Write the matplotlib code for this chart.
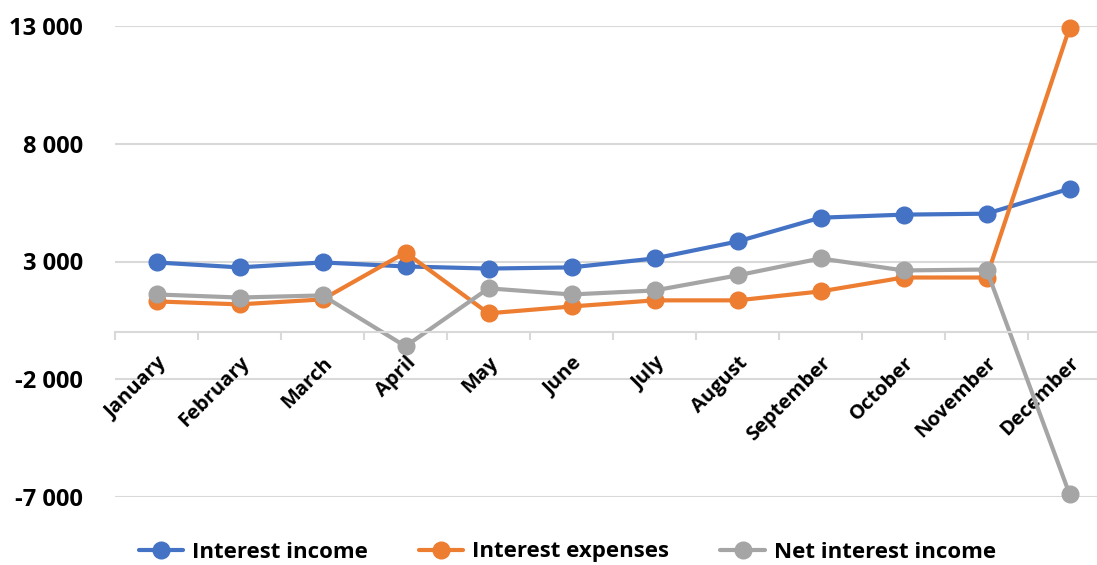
import matplotlib.pyplot as plt

months = ['January', 'February', 'March', 'April', 'May', 'June', 'July',
          'August', 'September', 'October', 'November', 'December']
interest_income = [2960, 2750, 2960, 2790, 2700, 2750, 3130, 3850, 4860, 4990, 5030, 6090]
interest_expenses = [1305, 1180, 1390, 3380, 800, 1090, 1350, 1350, 1730, 2320, 2320, 12920]
net_interest = [1600, 1470, 1560, -600, 1860, 1600, 1770, 2410, 3130, 2620, 2660, -6870]
yticks = [-7000, -2000, 3000, 8000, 13000]

plt.rcParams['font.family'] = ['Open Sans', 'DejaVu Sans']
plt.rcParams['font.weight'] = 'bold'

fig = plt.figure(figsize=(10.97, 5.65), dpi=100)
ax = fig.add_axes([115 / 1097, 1 - 497 / 565, 996 / 1097, 471 / 565])

x = list(range(len(months)))
series = [
    (interest_income, '#4472C4', 'Interest income'),
    (interest_expenses, '#ED7D31', 'Interest expenses'),
    (net_interest, '#A5A5A5', 'Net interest income'),
]
for vals, col, lab in series:
    ax.plot(x, vals, color=col, lw=3, marker='o', ms=12, label=lab,
            clip_on=False, solid_capstyle='round')

ax.set_xlim(-0.5, len(months) - 0.5)
ax.set_ylim(-7000, 13000)
ax.set_yticks(yticks)
ax.set_yticklabels([f'{v:,}'.replace(',', ' ') for v in yticks], fontsize=17, fontweight='bold')
# gridlines as plain lines so the month labels sit on top of them
for yv in yticks:
    ax.axhline(yv, color='#d9d9d9', lw=1.5, zorder=0.3)
ax.set_axisbelow(True)

for s in ['top', 'right', 'left']:
    ax.spines[s].set_visible(False)
ax.spines['bottom'].set_position(('data', 0))
ax.spines['bottom'].set_color('#d9d9d9')
ax.spines['bottom'].set_linewidth(1.5)

ax.set_xticks(x)
ax.set_xticklabels(months, rotation=45, ha='right', rotation_mode='anchor',
                   fontsize=14.5, fontweight='bold')
ax.set_xticks([i - 0.5 for i in range(len(months) + 1)], minor=True)
ax.tick_params(axis='x', which='major', length=0, pad=15)
ax.tick_params(axis='x', which='minor', length=6, width=1.5, color='#d9d9d9')
ax.tick_params(axis='y', length=0, pad=23)

fig.legend(loc='center', bbox_to_anchor=(0.517, 1 - 552 / 565), ncol=3, frameon=False,
           prop={'size': 16, 'weight': 'bold'}, handlelength=2.0, columnspacing=2.3,
           handletextpad=0.4)

fig.savefig('out.png', dpi=100)
